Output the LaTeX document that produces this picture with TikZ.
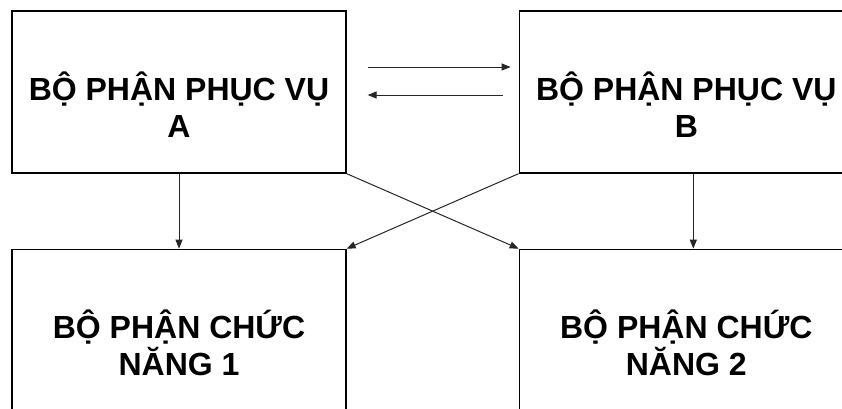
\documentclass[tikz,border=0pt]{standalone}
\usepackage{fontspec}
\setmainfont{Liberation Sans}
\usetikzlibrary{positioning, calc, arrows.meta}

\begin{document}
\begin{tikzpicture}[
    x=1pt, y=1pt,
    unit/.style={draw, line width=1.3pt, minimum width=334pt, minimum height=162pt, inner sep=0pt},
    txt/.style={align=center, inner sep=0pt, font=\bfseries\fontsize{32}{37}\selectfont},
    link/.style={draw, line width=1pt, black!85, -{Triangle[length=9pt, width=7pt]}}
  ]
  \useasboundingbox (0,0) rectangle (842,408);
  \clip (0,0) rectangle (842,408);
  % the four units
  \node[unit] (pa) at (179,316) {};
  \node[unit, right=172pt of pa] (pb) {};
  \node[unit, below=75pt of pa] (ca) {};
  \node[unit, below=75pt of pb] (cb) {};
  \node[txt, yshift=-13pt] (ta) at (pa) {BỘ PHẬN PHỤC VỤ\\A};
  \node[txt, yshift=-13pt] (tb) at (pb) {BỘ PHẬN PHỤC VỤ\\B};
  \node[txt, yshift=-13pt] (tc) at (ca) {BỘ PHẬN CHỨC\\NĂNG 1};
  \node[txt, yshift=-13pt] (td) at (cb) {BỘ PHẬN CHỨC\\NĂNG 2};
  % exchange between A and B
  \draw[link] ($(pa.east)+(21,25)$) -- ($(pb.west)+(-8,25)$);
  \draw[link] ($(pb.west)+(-16,-3)$) -- ($(pa.east)+(21,-3)$);
  % down to the functional units
  \draw[link] (pa.south) -- (ca.north);
  \draw[link] ([xshift=7pt]pb.south) -- ([xshift=7pt]cb.north);
  \draw[link] (pa.south east) -- (cb.north west);
  \draw[link] (pb.south west) -- (ca.north east);
\end{tikzpicture}
\end{document}
